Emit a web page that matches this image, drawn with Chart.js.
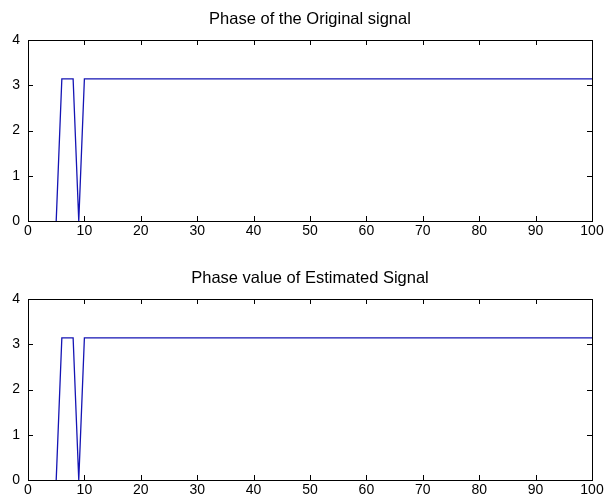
<!DOCTYPE html>
<html lang="en">
<head>
	<meta charset="UTF-8">
	<title>Phase plots</title>
	<script src="https://cdn.jsdelivr.net/npm/chart.js"></script>
	<style>
		body { margin: 0; background: #fff; width: 606px; height: 501px; overflow: hidden; position: relative; }
		.box { position: absolute; left: 0; width: 620px; height: 250px; }
	</style>
</head>
<body>
	<div class="box" style="top:0"><canvas id="origChart" width="620" height="250"></canvas></div>
	<div class="box" style="top:259px"><canvas id="estChart" width="620" height="250"></canvas></div>
<script>
	// sample positions where the phase changes
	const xValues = [5, 6, 8, 9, 10, 100];
	const originalPhase = [0, 3.1416, 3.1416, 0, 3.1416, 3.1416];
	const estimatedPhase = [0, 3.1416, 3.1416, 0, 3.1416, 3.1416];
	const xTicks = [0, 10, 20, 30, 40, 50, 60, 70, 80, 90, 100];
	const yTicks = [0, 1, 2, 3, 4];

	const fontFamily = '"Liberation Sans", Arial, sans-serif';

	// matlab style box with inward ticks on all four sides
	const boxPlugin = {
		id: 'matlabBox',
		afterDraw(chart) {
			const c = chart.ctx, a = chart.chartArea;
			const xs = chart.scales.x, ys = chart.scales.y;
			c.save();
			c.strokeStyle = '#000';
			c.lineWidth = 1;
			c.strokeRect(Math.round(a.left) + 0.5, Math.round(a.top) + 0.5,
				Math.round(a.right - a.left), Math.round(a.bottom - a.top));
			c.beginPath();
			xs.ticks.forEach((t, i) => {
				const px = Math.round(xs.getPixelForTick(i)) + 0.5;
				c.moveTo(px, a.bottom); c.lineTo(px, a.bottom - 5);
				c.moveTo(px, a.top); c.lineTo(px, a.top + 5);
			});
			ys.ticks.forEach((t, i) => {
				const py = Math.round(ys.getPixelForTick(i)) + 0.5;
				c.moveTo(a.left, py); c.lineTo(a.left + 5, py);
				c.moveTo(a.right, py); c.lineTo(a.right - 5, py);
			});
			c.stroke();
			c.restore();
		}
	};

	function makeChart(id, title, values) {
		const pts = xValues.map((x, i) => ({ x: x, y: values[i] }));
		return new Chart(document.getElementById(id).getContext('2d'), {
			type: 'line',
			data: {
				datasets: [{
					data: pts,
					borderColor: '#1414b4',
					borderWidth: 1.3,
					pointRadius: 0,
					tension: 0
				}]
			},
			options: {
				responsive: false,
				animation: false,
				layout: { padding: 0 },
				plugins: {
					legend: { display: false },
					tooltip: { enabled: false },
					title: {
						display: true,
						text: title,
						color: '#000',
						font: { family: fontFamily, size: 16.5, weight: 'normal', lineHeight: 1.2 },
						padding: { top: 10, bottom: 10.2 }
					}
				},
				scales: {
					x: {
						type: 'linear',
						min: 0, max: 100,
						afterBuildTicks: s => { s.ticks = xTicks.map(v => ({ value: v })); },
						afterFit: s => { s.height = 29; },
						grid: { display: false, drawTicks: false },
						border: { display: false },
						ticks: { color: '#000', padding: 2, maxRotation: 0, font: { family: fontFamily, size: 14 } }
					},
					y: {
						min: 0, max: 4,
						afterBuildTicks: s => { s.ticks = yTicks.map(v => ({ value: v })); },
						afterFit: s => { s.width = 28; },
						grid: { display: false, drawTicks: false },
						border: { display: false },
						ticks: { color: '#000', padding: 8, font: { family: fontFamily, size: 14 } }
					},
					// empty right axis, balances the left one so the title sits over the plot
					yRight: {
						type: 'linear',
						display: true,
						position: 'right',
						min: 0, max: 4,
						afterFit: s => { s.width = 28; },
						grid: { display: false, drawTicks: false },
						border: { display: false },
						ticks: { display: false }
					}
				}
			},
			plugins: [boxPlugin]
		});
	}

	makeChart('origChart', 'Phase of the Original signal', originalPhase);
	makeChart('estChart', 'Phase value of Estimated Signal', estimatedPhase);
</script>
</body>
</html>
